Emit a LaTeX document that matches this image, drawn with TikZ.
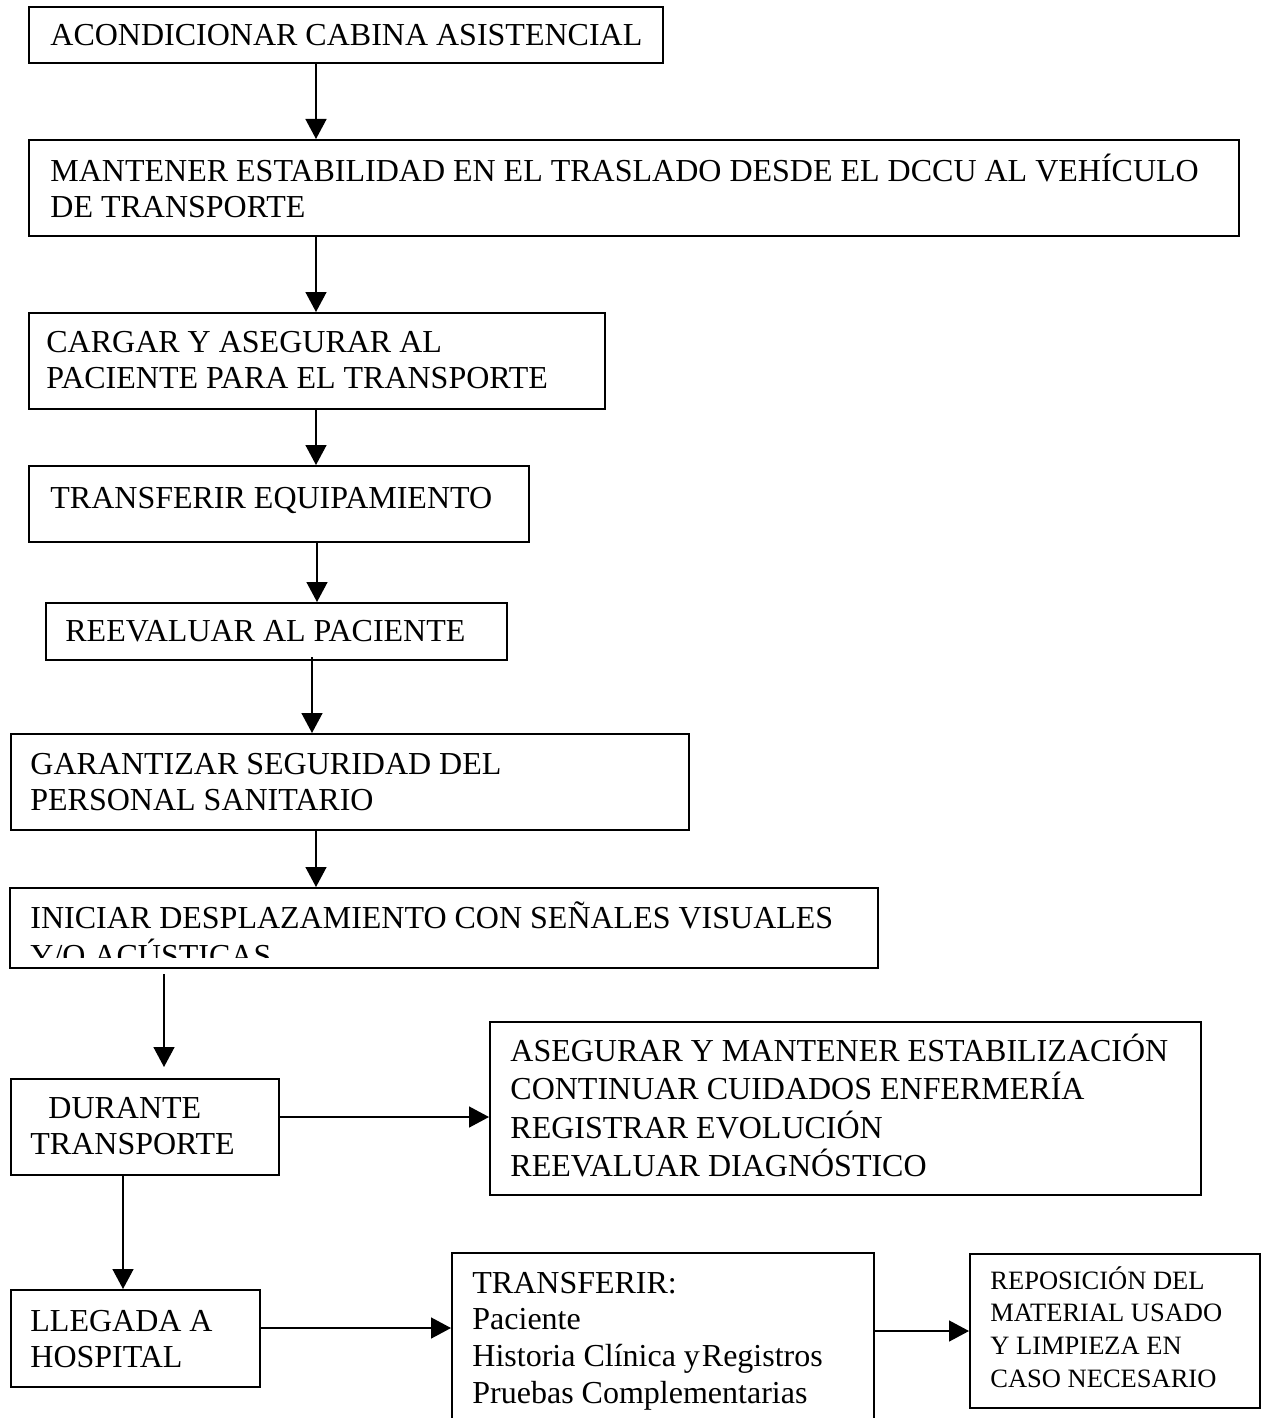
\documentclass[tikz,border=0pt]{standalone}
\usepackage{fontspec}
\setmainfont{Liberation Serif}
\usetikzlibrary{arrows.meta}

\tikzset{
  stepbox/.style={draw, line width=1pt, inner sep=0pt, anchor=north west},
  steptext/.style={inner sep=0pt, anchor=base west, font=\fontsize{16}{18.4}\selectfont},
  smalltext/.style={inner sep=0pt, anchor=base west, font=\fontsize{13.25}{16.4}\selectfont},
  flow/.style={line width=0.75pt, -{Triangle[length=10pt,width=10.5pt]}}
}
\newcommand{\rows}[1]{\begin{tabular}[t]{@{}l@{}}#1\end{tabular}}

\begin{document}
\begin{tikzpicture}[x=0.5pt,y=-0.5pt]
  \clip (0,0) rectangle (1261,1418);
  \fill[white] (0,0) rectangle (1261,1418);

  % boxes
  \node[stepbox, minimum width=317pt, minimum height=28pt]   (a) at (28,6) {};
  \node[stepbox, minimum width=605pt, minimum height=48pt]   (b) at (28,139) {};
  \node[stepbox, minimum width=288pt, minimum height=48pt]   (c) at (28,312) {};
  \node[stepbox, minimum width=250pt, minimum height=38pt]   (d) at (28,465) {};
  \node[stepbox, minimum width=230.5pt, minimum height=28.5pt] (e) at (45,602) {};
  \node[stepbox, minimum width=339pt, minimum height=48pt]   (f) at (10,733) {};
  \node[stepbox, minimum width=434pt, minimum height=40pt]   (g) at (9,887) {};
  \node[stepbox, minimum width=134pt, minimum height=48pt]   (h) at (10,1078) {};
  \node[stepbox, minimum width=355.5pt, minimum height=86.5pt] (i) at (489,1021) {};
  \node[stepbox, minimum width=124.5pt, minimum height=48.5pt] (j) at (10,1289) {};
  \node[stepbox, minimum width=211pt, minimum height=100pt]  (k) at (451,1252) {};
  \node[stepbox, minimum width=145pt, minimum height=77pt]   (l) at (969,1253) {};

  % texts
  \node[steptext] (ta) at (50,46) {ACONDICIONAR CABINA ASISTENCIAL};
  \node[steptext] (tb) at (50,181) {\rows{MANTENER ESTABILIDAD EN EL TRASLADO DESDE EL DCCU AL VEHÍCULO\\DE TRANSPORTE}};
  \node[steptext] (tc) at (46,352) {\rows{CARGAR Y ASEGURAR AL\\PACIENTE PARA EL TRANSPORTE}};
  \node[steptext] (td) at (50,508) {TRANSFERIR EQUIPAMIENTO};
  \node[steptext] (te) at (65,641) {REEVALUAR AL PACIENTE};
  \node[steptext] (tf) at (30,774) {\rows{GARANTIZAR SEGURIDAD DEL\\PERSONAL SANITARIO}};
  \begin{scope}
    \clip (10,888) rectangle (876,957);
    \node[steptext] (tg) at (30,928) {\rows{INICIAR DESPLAZAMIENTO CON SEÑALES VISUALES\\Y/O ACÚSTICAS}};
  \end{scope}
  \node[steptext] (th) at (30,1118) {\rows{\hspace{9pt}DURANTE\\TRANSPORTE}};
  \node[steptext] (ti) at (510,1061) {\rows{ASEGURAR Y MANTENER ESTABILIZACIÓN\\CONTINUAR CUIDADOS ENFERMERÍA\\REGISTRAR EVOLUCIÓN\\REEVALUAR DIAGNÓSTICO}};
  \node[steptext] (tj) at (30,1331) {\rows{LLEGADA A\\HOSPITAL}};
  \node[steptext] (tk) at (472,1293) {\rows{TRANSFERIR:\\Paciente\\Historia Clínica y\kern1pt Registros\\Pruebas Complementarias}};
  \node[smalltext] (tl) at (990,1289) {\rows{REPOSICIÓN DEL\\MATERIAL USADO\\Y LIMPIEZA EN\\CASO NECESARIO}};

  % connectors
  \draw[flow] (316,0 |- a.south) -- (316,0 |- b.north);
  \draw[flow] (316,0 |- b.south) -- (316,0 |- c.north);
  \draw[flow] (316,0 |- c.south) -- (316,0 |- d.north);
  \draw[flow] (317,0 |- d.south) -- (317,0 |- e.north);
  \draw[flow] (312,657) -- (312,0 |- f.north);
  \draw[flow] (316,0 |- f.south) -- (316,0 |- g.north);
  \draw[flow, shorten <=2.5pt, shorten >=5.5pt] (164,0 |- g.south) -- (164,0 |- h.north);
  \draw[flow] (h.east |- 0,1117) -- (i.west |- 0,1117);
  \draw[flow] (123,0 |- h.south) -- (123,0 |- j.north);
  \draw[flow] (j.east |- 0,1328) -- (k.west |- 0,1328);
  \draw[flow] (k.east |- 0,1331) -- (l.west |- 0,1331);
\end{tikzpicture}
\end{document}
